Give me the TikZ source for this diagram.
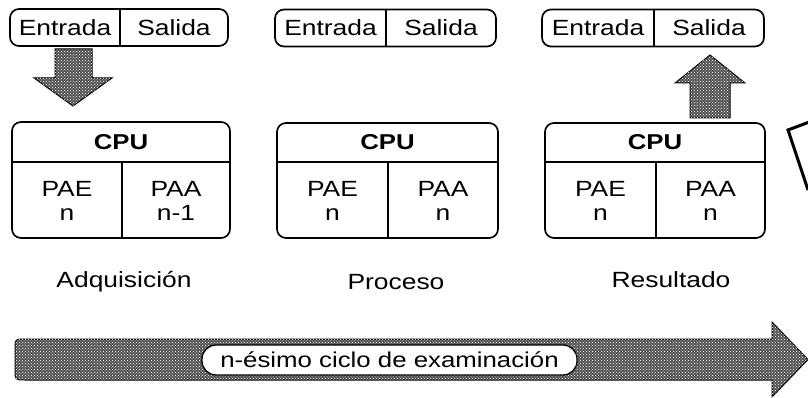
\documentclass[tikz,border=0pt]{standalone}
\usepackage{fontspec}
\setmainfont{Liberation Sans}
\newfontfamily\wf{Liberation Sans}[FakeStretch=1.2]
\usetikzlibrary{patterns}
\begin{document}
\begin{tikzpicture}[x=1pt,y=-1pt,
  frame/.style={draw, line width=1.7pt, rounded corners=9pt, inner sep=0pt, fill=white},
  txt/.style={font=\wf\fontsize{22}{24}\selectfont, inner sep=0pt, align=center},
  cputxt/.style={font=\wf\bfseries\fontsize{21.5}{24}\selectfont, inner sep=0pt},
  divider/.style={line width=1.7pt},
  hatch/.style={draw=black, line width=1pt, fill=black!68,
    postaction={pattern=crosshatch dots, pattern color=white}},
  pill/.style={draw, line width=1.3pt, fill=white, rounded corners=14pt, inner sep=0pt,
    minimum width=375pt, minimum height=30pt, font=\wf\fontsize{21.5}{24}\selectfont}
]
\useasboundingbox (0,0) rectangle (808,398);

% big bottom arrow
\draw[hatch] (772,339) -- (772,322) -- (808,359.5) -- (772,397) -- (772,380)
  -- (25,380) .. controls (15,380) .. (15,370) -- (15,349)
  .. controls (15,339) .. (25,339) -- cycle;
\node[pill] (cycle) at (389.5,360) {n-ésimo ciclo de examinación};

% top I/O boxes
\node[frame, minimum width=218pt, minimum height=37pt] (io1) at (119,27.5) {};
\node[frame, minimum width=221pt, minimum height=37pt] (io2) at (385.5,28) {};
\node[frame, minimum width=222pt, minimum height=37pt] (io3) at (653,28) {};
\coordinate (d1) at (120,0);
\coordinate (d2) at (386,0);
\coordinate (d3) at (654,0);
\draw[divider] (io1.north -| d1) -- (io1.south -| d1);
\draw[divider] (io2.north -| d2) -- (io2.south -| d2);
\draw[divider] (io3.north -| d3) -- (io3.south -| d3);
\node[txt] (e1) at (65,28) {Entrada};
\node[txt] (s1) at (174,28) {Salida};
\node[txt] (e2) at (330.5,28) {Entrada};
\node[txt] (s2) at (441,28) {Salida};
\node[txt] (e3) at (598,28) {Entrada};
\node[txt] (s3) at (709,28) {Salida};

% CPU boxes
\node[frame, minimum width=218pt, minimum height=116pt] (cpuA) at (121,180) {};
\node[frame, minimum width=221pt, minimum height=115pt] (cpuB) at (387.5,180.5) {};
\node[frame, minimum width=220pt, minimum height=115pt] (cpuC) at (655,180.5) {};
\coordinate (h) at (0,162);
\coordinate (vA) at (122,0);
\coordinate (vB) at (388,0);
\coordinate (vC) at (656,0);
\foreach \b/\v in {cpuA/vA, cpuB/vB, cpuC/vC}{
  \draw[divider] (\b.west |- h) -- (\b.east |- h);
  \draw[divider] (\v |- h) -- (\v |- \b.south);
}
\node[cputxt] (cA) at (121,142) {CPU};
\node[cputxt] (cB) at (387.5,142) {CPU};
\node[cputxt] (cC) at (655,142) {CPU};
\node[txt] (peA) at (67,201) {PAE\\n};
\node[txt] (paA) at (176,201) {PAA\\n-1};
\node[txt] (peB) at (332.5,201) {PAE\\n};
\node[txt] (paB) at (443,201) {PAA\\n};
\node[txt] (peC) at (600.5,201) {PAE\\n};
\node[txt] (paC) at (710.5,201) {PAA\\n};

% captions
\node[txt] (adq) at (124,282) {Adquisición};
\node[txt] (pro) at (396,282) {Proceso};
\node[txt] (res) at (671,280) {Resultado};

% block arrows
\draw[hatch] (55,49) -- (92,49) -- (92,78) -- (112,78) -- (73,106) -- (34,78) -- (55,78) -- cycle;
\draw[hatch] (690,118) -- (730,118) -- (730,83) -- (745,83) -- (710,55) -- (675,83) -- (690,83) -- cycle;

% partial shape at right edge
\draw[line width=3pt] (812,121) -- (788,130) -- (808,190);
\end{tikzpicture}
\end{document}
